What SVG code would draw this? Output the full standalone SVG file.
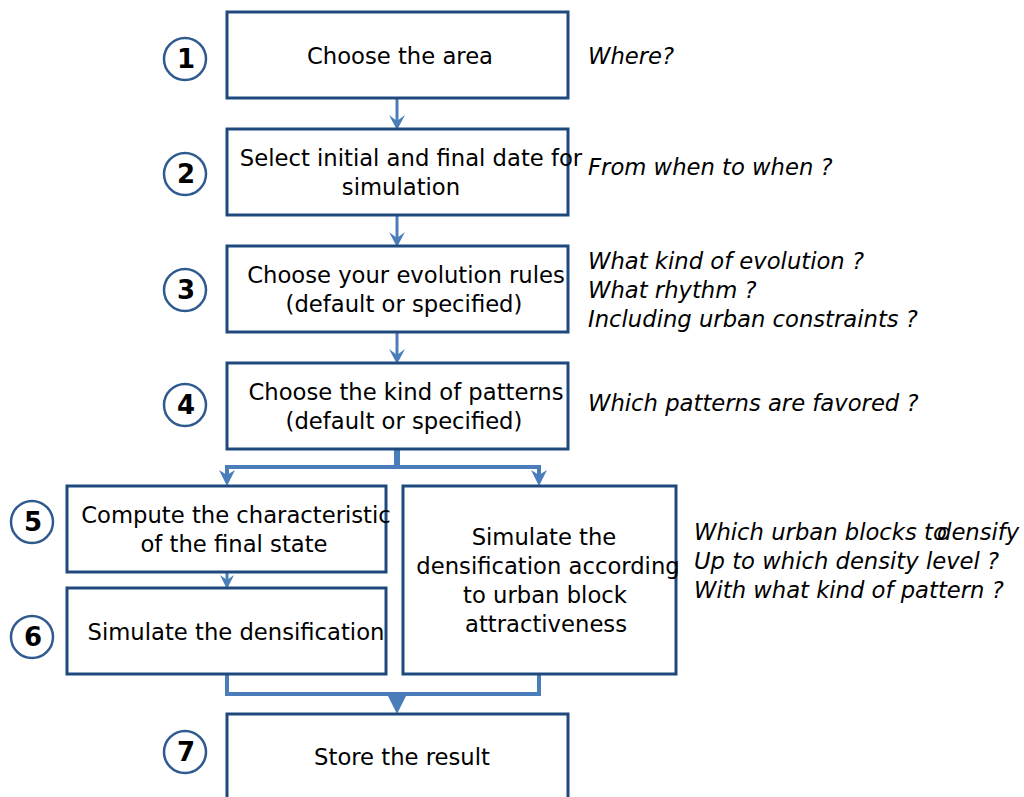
<svg xmlns="http://www.w3.org/2000/svg" width="1024" height="797" viewBox="0 0 1024 797">
<style>
.box{fill:#fff;stroke:#1F497D;stroke-width:3}
.num{fill:#fff;stroke:#2F5A8F;stroke-width:2.5}
.nt{font-family:"DejaVu Sans",sans-serif;font-weight:bold;font-size:26px;text-anchor:middle;fill:#000}
.t{font-family:"DejaVu Sans",sans-serif;font-size:22.7px;text-anchor:middle;fill:#000}
.q{font-family:"DejaVu Sans",sans-serif;font-style:italic;font-size:22.7px;fill:#000}
.c{fill:none;stroke:#4A7EBB;stroke-width:4}
.ah{fill:#4A7EBB}
</style>
<g id="connectors">
<line class="c" x1="397" y1="98" x2="397" y2="122" style="stroke-width:3"/>
<path class="ah" d="M389,115 L397,130 L405,115 L397,121 Z"/>
<line class="c" x1="397" y1="215" x2="397" y2="239" style="stroke-width:3"/>
<path class="ah" d="M389,232 L397,247 L405,232 L397,238 Z"/>
<line class="c" x1="397" y1="332" x2="397" y2="356" style="stroke-width:3"/>
<path class="ah" d="M389,349 L397,364 L405,349 L397,355 Z"/>
<line class="c" x1="397" y1="449" x2="397" y2="467" style="stroke-width:6"/>
<polyline class="c" points="227,480 227,467 539,467 539,480"/>
<path class="ah" d="M219,470 L227,486 L235,470 L227,475 Z"/>
<path class="ah" d="M531,470 L539,486 L547,470 L539,475 Z"/>
<line class="c" x1="227" y1="572" x2="227" y2="582" style="stroke-width:3"/>
<path class="ah" d="M220,575 L227,589 L234,575 L227,580 Z"/>
<polyline class="c" points="227,674 227,694 539,694 539,674"/>
<path class="ah" d="M388,696 L397,714 L406,696 Z"/>
</g>
<g id="n1"><rect class="box" x="227" y="12" width="341" height="86"/><text class="t" x="400" y="64">Choose the area</text></g>
<g id="n2"><rect class="box" x="227" y="129" width="341" height="86"/><text class="t" x="411" y="166">Select initial and final date for</text><text class="t" x="401" y="195">simulation</text></g>
<g id="n3"><rect class="box" x="227" y="246" width="341" height="86"/><text class="t" x="406" y="283">Choose your evolution rules</text><text class="t" x="404" y="312">(default or specified)</text></g>
<g id="n4"><rect class="box" x="227" y="363" width="341" height="86"/><text class="t" x="406" y="400">Choose the kind of patterns</text><text class="t" x="404" y="429">(default or specified)</text></g>
<g id="n5"><rect class="box" x="67" y="486" width="319" height="86"/><text class="t" x="236" y="523">Compute the characteristic</text><text class="t" x="234" y="552">of the final state</text></g>
<g id="n6"><rect class="box" x="67" y="588" width="319" height="86"/><text class="t" x="236" y="640">Simulate the densification</text></g>
<g id="nsim"><rect class="box" x="403" y="486" width="273" height="188"/><text class="t" x="544" y="545">Simulate the</text><text class="t" x="548" y="574">densification according</text><text class="t" x="545" y="603">to urban block</text><text class="t" x="546" y="632">attractiveness</text></g>
<g id="n7"><rect class="box" x="227" y="714" width="341" height="90"/><text class="t" x="402" y="765">Store the result</text></g>
<g id="badges">
<circle class="num" cx="185" cy="59" r="21"/><text class="nt" x="186" y="68">1</text>
<circle class="num" cx="185" cy="174" r="21"/><text class="nt" x="186" y="183">2</text>
<circle class="num" cx="185" cy="290" r="21"/><text class="nt" x="186" y="299">3</text>
<circle class="num" cx="185" cy="405" r="21"/><text class="nt" x="186" y="414">4</text>
<circle class="num" cx="32" cy="522" r="21"/><text class="nt" x="33" y="531">5</text>
<circle class="num" cx="32" cy="637" r="21"/><text class="nt" x="33" y="646">6</text>
<circle class="num" cx="185" cy="752" r="21"/><text class="nt" x="186" y="761">7</text>
</g>
<g id="questions">
<text class="q" x="588" y="64">Where?</text>
<text class="q" x="588" y="175">From when to when ?</text>
<text class="q" x="588" y="269">What kind of evolution ?</text>
<text class="q" x="588" y="298">What rhythm ?</text>
<text class="q" x="588" y="327">Including urban constraints ?</text>
<text class="q" x="588" y="411">Which patterns are favored ?</text>
<text class="q" x="694" y="540">Which urban blocks to<tspan x="937">densify</tspan></text>
<text class="q" x="694" y="569">Up to which density level ?</text>
<text class="q" x="694" y="598">With what kind of pattern ?</text>
</g>
</svg>
